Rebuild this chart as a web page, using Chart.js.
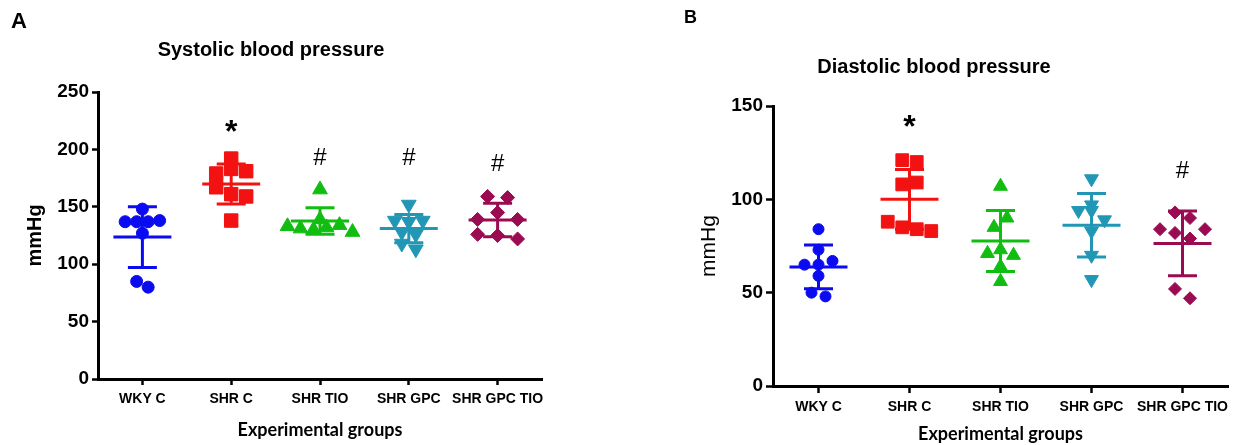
<!DOCTYPE html>
<html lang="en">
<head>
    <meta charset="UTF-8">
    <title>Systolic and diastolic blood pressure</title>
    <script src="https://cdn.jsdelivr.net/npm/chart.js"></script>
    <style>
        html, body { margin: 0; padding: 0; background: #fff; width: 1235px; height: 445px; overflow: hidden; }
        canvas { position: absolute; top: 0; }
        .letter { position: absolute; font-family: "Liberation Sans", Arial, sans-serif; font-weight: bold; line-height: 1; color: #000; }
    </style>
</head>
<body>
    <canvas id="sysChart" width="640" height="445" style="left:0"></canvas>
    <canvas id="diaChart" width="721" height="445" style="left:640px"></canvas>
    <div class="letter" style="left:11px; top:10px; font-size:22px;">A</div>
    <div class="letter" style="left:684px; top:8px; font-size:18px;">B</div>

    <script>
        const groups = ['WKY C', 'SHR C', 'SHR TIO', 'SHR GPC', 'SHR GPC TIO'];

        // Systolic pressure, mmHg (one value per animal)
        const sysWkyC = [137, 137, 137, 138, 148, 127, 85, 80];
        const sysShrC = [167, 161, 159, 179, 183, 192, 181, 138];
        const sysShrTio = [165, 133, 131, 130, 132, 134, 139, 128];
        const sysShrGpc = [152, 138, 137, 138, 128, 126, 118, 113];
        const sysShrGpcTio = [159, 158, 139, 145, 139, 126, 125, 122];
        const sysMean = [123.6, 169.8, 137.6, 131.0, 138.5];
        const sysSd = [26.4, 17.4, 11.6, 12.4, 14.5];
        const sysMarks = ['', '*', '#', '#', '#'];
        const sysMarkAt = [null, 220, 194, 194, 189];

        // Diastolic pressure, mmHg
        const diaWkyC = [84, 73, 65, 65, 67, 59, 50, 48];
        const diaShrC = [121, 120, 108, 109, 88, 85, 84, 83];
        const diaShrTio = [107, 85, 90, 71, 73, 70, 64, 56];
        const diaShrGpc = [111, 97, 94, 94, 89, 83, 70, 57];
        const diaShrGpcTio = [93, 90, 84, 82, 79, 84, 52, 47];
        const diaMean = [63.8, 100.0, 77.7, 86.1, 76.4];
        const diaSd = [11.7, 16.0, 16.3, 17.0, 17.4];
        const diaMarks = ['', '*', '', '', '#'];
        const diaMarkAt = [null, 142, null, null, 116];

        const colors = ['#0b0bf2', '#f31212', '#12bd12', '#2197b5', '#9a0b52'];
        const shapes = ['circle', 'rect', 'triangle', 'triangle', 'rectRot'];
        const rotations = [0, 0, 0, 180, 0];

        Chart.defaults.font.family = '"Liberation Sans", Arial, sans-serif';
        Chart.defaults.color = '#000';

        // spread points of similar value sideways, like a column scatter plot
        const swarmPlugin = {
            id: 'swarm',
            afterDatasetsUpdate(chart) {
                chart.data.datasets.forEach((ds, di) => {
                    if (!ds.swarm) return;
                    const pts = chart.getDatasetMeta(di).data;
                    const order = pts.map((p, i) => i).sort((a, b) => pts[b].y - pts[a].y);
                    let bin = [];
                    const flush = () => {
                        bin.sort((a, b) => a - b);
                        bin.forEach((i, j) => { pts[i].x += (j - (bin.length - 1) / 2) * ds.swarm; });
                        bin = [];
                    };
                    order.forEach(i => {
                        if (bin.length && Math.abs(pts[i].y - pts[bin[0]].y) >= 10) flush();
                        bin.push(i);
                    });
                    flush();
                });
            }
        };

        function sigPlugin(marks, at) {
            return {
                id: 'sig',
                afterDatasetsDraw(chart) {
                    const { ctx, scales: { x, y } } = chart;
                    ctx.save();
                    ctx.fillStyle = '#000';
                    ctx.textAlign = 'center';
                    ctx.textBaseline = 'alphabetic';
                    marks.forEach((m, i) => {
                        if (!m) return;
                        ctx.font = m === '*' ? 'bold 32px "Liberation Sans", Arial' : '24px "Liberation Sans", Arial';
                        const mt = ctx.measureText(m);
                        const cy = y.getPixelForValue(at[i]);
                        ctx.fillText(m, x.getPixelForValue(i), cy + (mt.actualBoundingBoxAscent - mt.actualBoundingBoxDescent) / 2);
                    });
                    ctx.restore();
                }
            };
        }

        function makeChart(id, p) {
            const datasets = [];
            p.series.forEach((vals, g) => {
                datasets.push({
                    data: vals.map(v => ({ x: groups[g], y: v })),
                    pointStyle: shapes[g],
                    rotation: rotations[g],
                    pointRadius: p.radius[g],
                    backgroundColor: colors[g],
                    borderColor: colors[g],
                    pointBorderWidth: 1,
                    swarm: p.spacing[g],
                    order: 3
                });
                // SD whisker
                datasets.push({
                    type: 'line',
                    data: [{ x: groups[g], y: p.mean[g] - p.sd[g] }, { x: groups[g], y: p.mean[g] + p.sd[g] }],
                    borderColor: colors[g],
                    borderWidth: 3,
                    pointRadius: 0,
                    showLine: true,
                    order: 2
                });
            });
            // mean lines
            datasets.push({
                data: p.mean.map((m, g) => ({ x: groups[g], y: m })),
                pointStyle: 'line',
                pointRadius: 29,
                pointBorderWidth: 3,
                borderColor: colors,
                order: 1
            });
            // SD caps
            datasets.push({
                data: p.mean.map((m, g) => ({ x: groups[g], y: m + p.sd[g] }))
                    .concat(p.mean.map((m, g) => ({ x: groups[g], y: m - p.sd[g] }))),
                pointStyle: 'line',
                pointRadius: 14.5,
                pointBorderWidth: 3,
                borderColor: colors.concat(colors),
                order: 1
            });

            return new Chart(document.getElementById(id), {
                type: 'scatter',
                data: { datasets: datasets },
                plugins: [swarmPlugin, sigPlugin(p.marks, p.markAt)],
                options: {
                    responsive: false,
                    animation: false,
                    events: [],
                    layout: { padding: { left: 0, right: p.padRight, top: 0, bottom: 0 } },
                    plugins: {
                        legend: { display: false },
                        tooltip: { enabled: false },
                        title: {
                            display: true,
                            text: p.title,
                            color: '#000',
                            font: { size: 20, weight: 'bold' },
                            padding: p.titlePad
                        }
                    },
                    scales: {
                        x: {
                            type: 'category',
                            labels: groups,
                            offset: true,
                            grid: { display: true, drawOnChartArea: false, offset: false, tickLength: p.tickLen, tickWidth: 2.5, tickColor: '#000' },
                            border: { display: true, color: '#000', width: 3 },
                            ticks: { autoSkip: false, maxRotation: 0, padding: 6, color: '#000', font: { size: 14, weight: 'bold' } },
                            title: {
                                display: true,
                                text: 'Experimental groups',
                                color: '#000',
                                font: { family: 'Lato, "Open Sans", sans-serif', size: 18, weight: 'bold' },
                                padding: { top: 0, bottom: p.xTitleBottom }
                            },
                            afterFit: s => { s.height = p.xHeight; }
                        },
                        y: {
                            min: 0,
                            max: p.yMax,
                            grid: { display: true, drawOnChartArea: false, tickLength: p.tickLen, tickWidth: 2.5, tickColor: '#000' },
                            border: { display: true, color: '#000', width: 3 },
                            ticks: { stepSize: 50, padding: 3, color: '#000', font: { size: 19, weight: 'bold' } },
                            title: {
                                display: true,
                                text: 'mmHg',
                                color: '#000',
                                font: { size: p.yTitleSize, weight: p.yTitleWeight },
                                padding: { top: p.yTitleTop, bottom: 0 }
                            },
                            afterFit: s => { s.width = p.yWidth; }
                        }
                    }
                }
            });
        }

        makeChart('sysChart', {
            series: [sysWkyC, sysShrC, sysShrTio, sysShrGpc, sysShrGpcTio],
            mean: sysMean, sd: sysSd, marks: sysMarks, markAt: sysMarkAt,
            title: 'Systolic blood pressure', yMax: 250,
            radius: [6, 9.5, 8.5, 8.5, 7], spacing: [11.5, 15, 13, 14, 20],
            padRight: 98, titlePad: { top: 38, bottom: 30 },
            xHeight: 66, yWidth: 98, tickLen: 6, xTitleBottom: 4,
            yTitleSize: 20, yTitleWeight: 'bold', yTitleTop: 23
        });

        makeChart('diaChart', {
            series: [diaWkyC, diaShrC, diaShrTio, diaShrGpc, diaShrGpcTio],
            mean: diaMean, sd: diaSd, marks: diaMarks, markAt: diaMarkAt,
            title: 'Diastolic blood pressure', yMax: 150,
            radius: [5.5, 9, 8, 8, 6.5], spacing: [14, 14.5, 13, 13, 15],
            padRight: 133, titlePad: { top: 55, bottom: 27 },
            xHeight: 59, yWidth: 133, tickLen: 7, xTitleBottom: 0,
            yTitleSize: 21, yTitleWeight: 'normal', yTitleTop: 57
        });
    </script>
</body>
</html>
